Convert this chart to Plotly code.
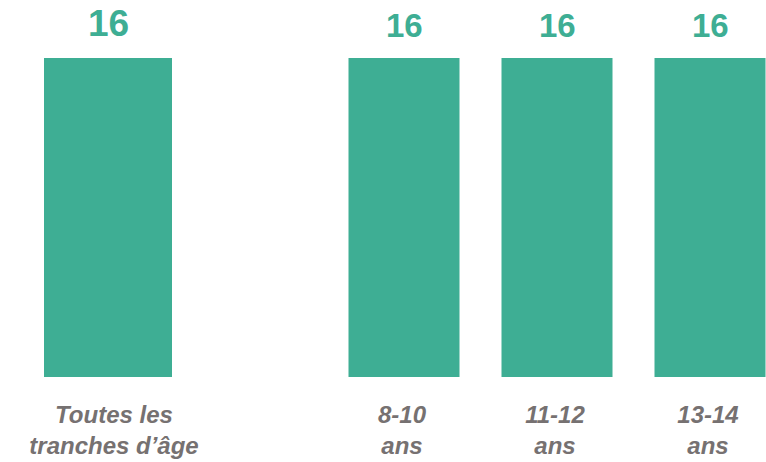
import plotly.graph_objects as go

categories = ["Toutes les<br>tranches d’âge", "8-10<br>ans", "11-12<br>ans", "13-14<br>ans"]
values = [16, 16, 16, 16]

GREEN = "#3EAE94"
GRAY = "#767171"
FONT = "Liberation Sans, Arial, sans-serif"

W, H = 766, 462

fig = go.Figure()
fig.add_trace(go.Bar(x=categories[:1], y=values[:1], width=0.8366,
                     marker=dict(color=GREEN, line=dict(width=0)),
                     xaxis="x", yaxis="y", hoverinfo="skip"))
fig.add_trace(go.Bar(x=categories[1:], y=values[1:], width=0.7255,
                     marker=dict(color=GREEN, line=dict(width=0)),
                     xaxis="x2", yaxis="y", hoverinfo="skip"))

annotations = []
for i, (c, v) in enumerate(zip(categories, values)):
    annotations.append(dict(
        x=c, y=v, xref="x" if i == 0 else "x2", yref="y",
        text=f"<b>{v:g}</b>", showarrow=False, yanchor="bottom",
        yshift=12,
        font=dict(family=FONT, size=37 if i == 0 else 33, color=GREEN)))

tickfont = dict(family=FONT, size=24, color=GRAY, weight="bold", style="italic")
fig.update_layout(
    width=W, height=H,
    margin=dict(l=0, r=0, t=0, b=85, autoexpand=False),
    paper_bgcolor="white", plot_bgcolor="white",
    showlegend=False,
    xaxis=dict(domain=[31.5 / W, 184.5 / W], range=[-0.5, 0.5], type="category",
               showgrid=False, zeroline=False, showline=False, ticks="",
               tickfont=tickfont, ticklabelstandoff=21, ticklabelshift=6,
               automargin=False),
    xaxis2=dict(domain=[327.5 / W, 1], range=[-0.5, -0.5 + 438.5 / 153], type="category",
                anchor="y", showgrid=False, zeroline=False, showline=False, ticks="",
                tickfont=tickfont, ticklabelstandoff=21, ticklabelshift=-2,
                automargin=False),
    yaxis=dict(range=[0, 16 * 377 / 319], visible=False, fixedrange=True),
    annotations=annotations,
)
fig.write_html(
    "out.html",
    config={"displayModeBar": False, "staticPlot": True},
    post_script="document.body.style.margin='0';document.body.style.overflow='hidden';",
)
